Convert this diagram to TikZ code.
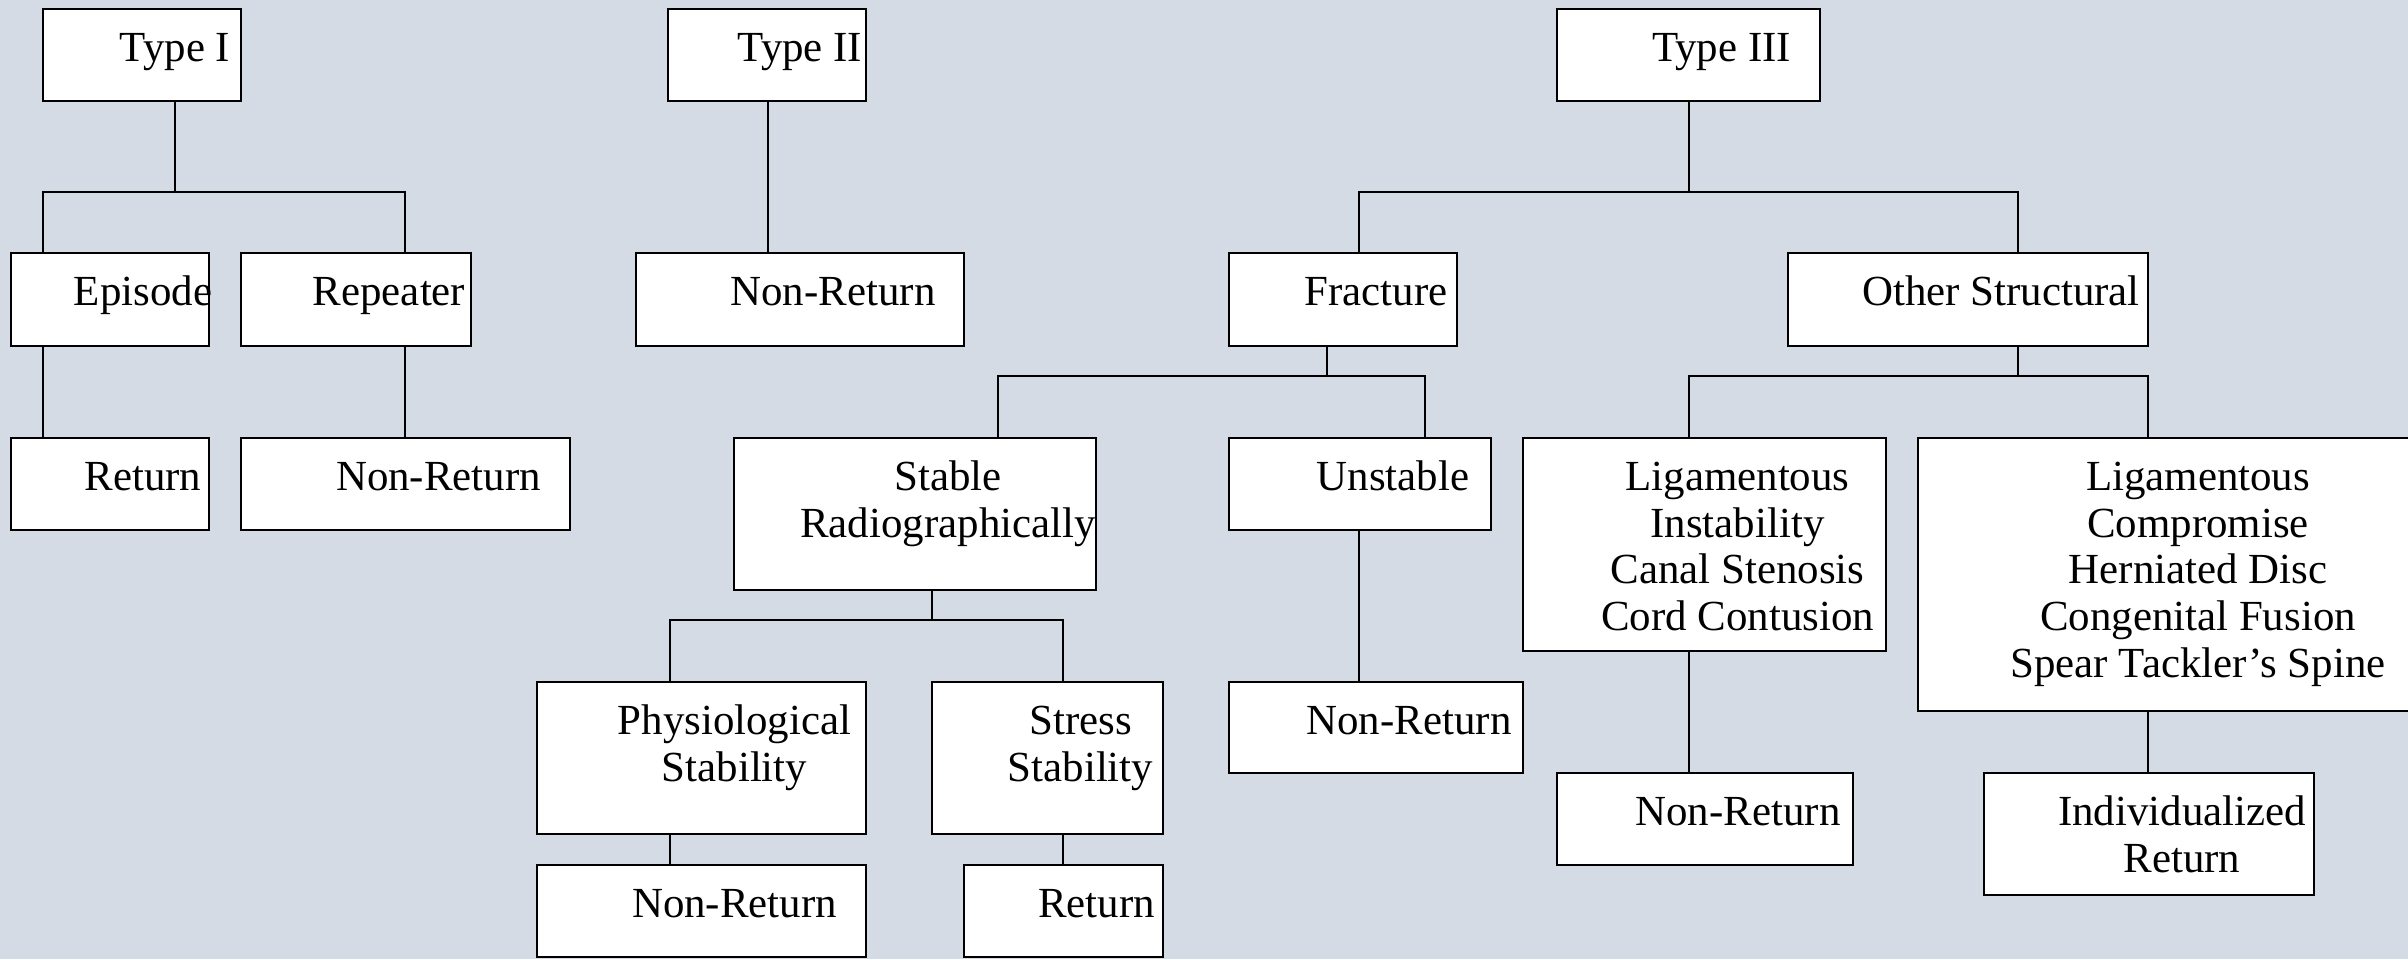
\documentclass[tikz,border=0pt]{standalone}
\usepackage{fontspec}
\setmainfont{Liberation Serif}
\definecolor{bgc}{RGB}{212,219,229}
\tikzset{
  box/.style={draw=black, line width=0.8pt, fill=white, inner sep=0pt, outer sep=0pt},
  txt/.style={inner sep=0pt, outer sep=0pt, align=center, anchor=north,
    font=\fontsize{12.2}{13.35}\selectfont},
  conn/.style={line width=0.7pt, draw=black},
}
\newcommand{\pbox}[6]{%
  \node[box, minimum width={(#4-#2)*0.01cm}, minimum height={(#5-#3)*0.01cm}]
    (#1) at ({(#2+#4)/2},{(#3+#5)/2}) {};
  \node[txt] (#1t) at ([xshift=0.33cm,yshift=-0.204cm]#1.north) {\rule{0pt}{9pt}#6};
}
\begin{document}
\begin{tikzpicture}[x=0.01cm,y=-0.01cm]
\path[use as bounding box, fill=bgc] (0,0) rectangle (2408,959);
\pbox{t1}{43}{9}{241}{101}{Type I}
\pbox{ep}{11}{253}{209}{346}{Episode}
\pbox{rp}{241}{253}{471}{346}{Repeater}
\pbox{r1}{11}{438}{209}{530}{Return}
\pbox{n1}{241}{438}{570}{530}{Non-Return}
\pbox{t2}{668}{9}{866}{101}{Type II}
\pbox{n2}{636}{253}{964}{346}{Non-Return}
\pbox{t3}{1557}{9}{1820}{101}{Type III}
\pbox{fr}{1229}{253}{1457}{346}{Fracture}
\pbox{os}{1788}{253}{2148}{346}{Other Structural}
\pbox{sr}{734}{438}{1096}{590}{Stable\\Radiographically}
\pbox{un}{1229}{438}{1491}{530}{Unstable}
\pbox{ph}{537}{682}{866}{834}{Physiological\\Stability}
\pbox{st}{932}{682}{1163}{834}{Stress\\Stability}
\pbox{n5}{537}{865}{866}{957}{Non-Return}
\pbox{r2}{964}{865}{1163}{957}{Return}
\pbox{n3}{1229}{682}{1523}{773}{Non-Return}
\pbox{li}{1523}{438}{1886}{651}{Ligamentous\\Instability\\Canal Stenosis\\Cord Contusion}
\pbox{lc}{1918}{438}{2412}{711}{Ligamentous\\Compromise\\Herniated Disc\\Congenital Fusion\\Spear Tackler’s Spine}
\pbox{n4}{1557}{773}{1853}{865}{Non-Return}
\pbox{ir}{1984}{773}{2314}{895}{Individualized\\Return}
% Type I
\coordinate (b1) at (175,192);
\draw[conn] (t1.south -| b1) -- (b1) -| (ep.north -| 43,0);
\draw[conn] (b1) -| (rp.north -| 405,0);
\draw[conn] (ep.south -| 43,0) -- (r1.north -| 43,0);
\draw[conn] (rp.south -| 405,0) -- (n1.north -| 405,0);
% Type II
\draw[conn] (t2.south -| 768,0) -- (n2.north -| 768,0);
% Type III
\coordinate (b3) at (1689,192);
\draw[conn] (t3.south -| b3) -- (b3) -| (fr.north -| 1359,0);
\draw[conn] (b3) -| (os.north -| 2018,0);
% Fracture
\coordinate (b4) at (1327,376);
\draw[conn] (fr.south -| b4) -- (b4) -| (sr.north -| 998,0);
\draw[conn] (b4) -| (un.north -| 1425,0);
% Stable
\coordinate (b5) at (932,620);
\draw[conn] (sr.south -| b5) -- (b5) -| (ph.north -| 670,0);
\draw[conn] (b5) -| (st.north -| 1063,0);
\draw[conn] (ph.south -| 670,0) -- (n5.north -| 670,0);
\draw[conn] (st.south -| 1063,0) -- (r2.north -| 1063,0);
% Unstable
\draw[conn] (un.south -| 1359,0) -- (n3.north -| 1359,0);
% Other structural
\coordinate (b6) at (2018,376);
\draw[conn] (os.south -| b6) -- (b6) -| (li.north -| 1689,0);
\draw[conn] (b6) -| (lc.north -| 2148,0);
\draw[conn] (li.south -| 1689,0) -- (n4.north -| 1689,0);
\draw[conn] (lc.south -| 2148,0) -- (ir.north -| 2148,0);
\end{tikzpicture}
\end{document}
